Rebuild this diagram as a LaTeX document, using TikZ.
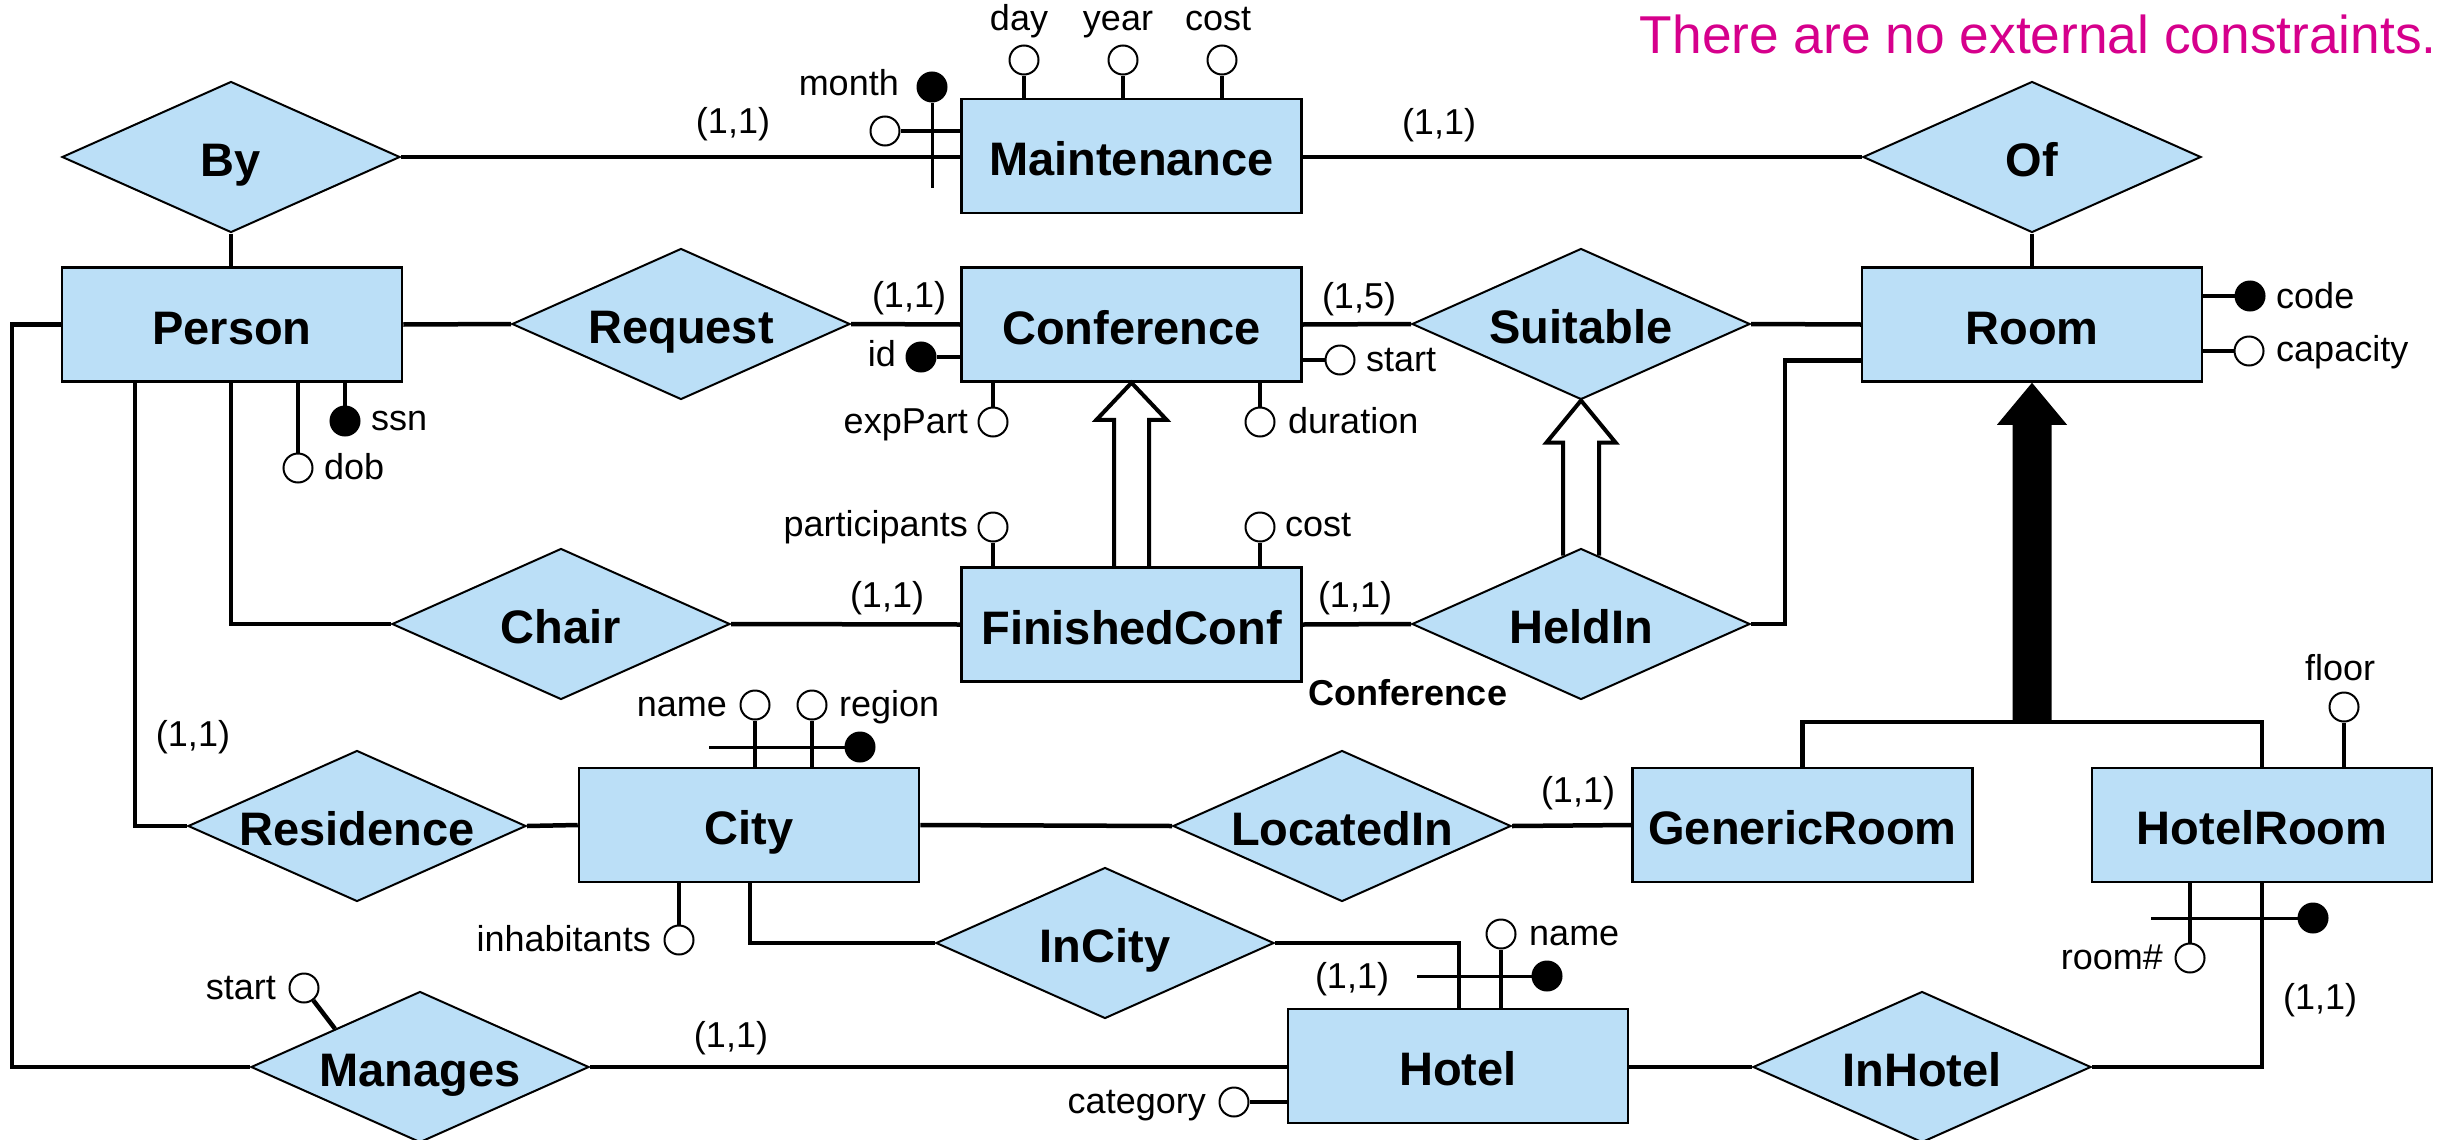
\documentclass[tikz,border=0pt]{standalone}
\usepackage{fontspec}
\setmainfont{Liberation Sans}
\usetikzlibrary{shapes.geometric}
\definecolor{erblue}{RGB}{187,223,247}
\definecolor{ermag}{RGB}{214,0,140}
\tikzset{
  ent/.style={draw, line width=2.5pt, fill=erblue, minimum width=340pt, minimum height=114pt,
    inner sep=0pt, font=\fontsize{47}{50}\selectfont\bfseries, text height=39pt, text depth=0pt},
  rel/.style={diamond, aspect=2.24, draw, line width=2pt, fill=erblue, minimum width=338pt,
    minimum height=151pt, inner sep=0pt, font=\fontsize{47}{50}\selectfont\bfseries,
    text height=38pt, text depth=0pt},
  conn/.style={line width=4.5pt},
  keybar/.style={line width=3pt},
  isa/.style={line width=4pt, line join=miter},
  oattr/.style={circle, draw, line width=2pt, fill=white, minimum size=29pt, inner sep=0pt},
  fattr/.style={circle, draw, line width=2pt, fill=black, minimum size=29pt, inner sep=0pt},
  lbl/.style={font=\fontsize{36}{40}\selectfont, inner sep=0pt},
  card/.style={font=\fontsize{36}{40}\selectfont, inner sep=0pt},
}
\begin{document}
\begin{tikzpicture}[x=1pt,y=-1pt]
\useasboundingbox (0,0) rectangle (2446,1140);

% entities
\node[ent] (Person) at (232,324.5) {Person};
\node[ent] (Maintenance) at (1131.5,156) {Maintenance};
\node[ent] (Conference) at (1131.5,324.5) {Conference};
\node[ent] (FinishedConf) at (1131.5,624.5) {FinishedConf};
\node[ent] (Room) at (2032,324.5) {Room};
\node[ent] (City) at (749,825) {City};
\node[ent] (GenericRoom) at (1802.5,825) {GenericRoom};
\node[ent] (HotelRoom) at (2262,825) {HotelRoom};
\node[ent] (Hotel) at (1458,1066) {Hotel};

% relationships
\node[rel] (By) at (231,157) {By};
\node[rel] (Of) at (2032,157) {Of};
\node[rel] (Request) at (681,324) {Request};
\node[rel] (Suitable) at (1581,324) {Suitable};
\node[rel] (Chair) at (561,624) {Chair};
\node[rel] (HeldIn) at (1581,624) {HeldIn};
\node[rel] (Residence) at (357,826) {Residence};
\node[rel] (LocatedIn) at (1342,826) {LocatedIn};
\node[rel] (InCity) at (1105,943) {InCity};
\node[rel] (Manages) at (420,1067) {Manages};
\node[rel] (InHotel) at (1922,1067) {InHotel};

% connectors
\draw[conn] (By.east) -- (By.east -| Maintenance.west);
\draw[conn] (Maintenance.east |- Of.west) -- (Of.west);
\draw[conn] (By.south) -- (By.south |- Person.north);
\draw[conn] (Of.south) -- (Room.north);
\draw[conn] (Person.east) -- (Request.west);
\draw[conn] (Request.east) -- (Conference.west);
\draw[conn] (Conference.east) -- (Suitable.west);
\draw[conn] (Suitable.east) -- (Room.west);
\draw[conn] (HeldIn.east) -- ++(34,0) |- ([yshift=-36pt]Room.west);
\draw[conn] (Chair.east) -- (FinishedConf.west);
\draw[conn] (FinishedConf.east) -- (HeldIn.west);
\draw[conn] ([xshift=-1pt]Person.south) |- (Chair.west);
\draw[conn] ([xshift=-97pt]Person.south) |- (Residence.west);
\draw[conn] (Person.west) -- ++(-49,0) |- (Manages.west);
\draw[conn] (Residence.east) -- (City.west);
\draw[conn] (City.east) -- (LocatedIn.west);
\draw[conn] (LocatedIn.east) -- (GenericRoom.west);
\draw[conn] ([xshift=1pt]City.south) |- (InCity.west);
\draw[conn] (InCity.east) -| ([xshift=1pt]Hotel.north);
\draw[conn] (Manages.east) -- (Manages.east -| Hotel.west);
\draw[conn] (Hotel.east |- InHotel.west) -- (InHotel.west);
\draw[conn] (InHotel.east) -| (HotelRoom.south);

% generalizations
\coordinate (isabar) at (2032,722);
\fill (Room.south) -- ([xshift=35pt,yshift=-42pt]Room.south) -- ([xshift=19.5pt,yshift=-42pt]Room.south)
  -- ([xshift=19.5pt]isabar) -- ([xshift=-19.5pt]isabar) -- ([xshift=-19.5pt,yshift=-42pt]Room.south)
  -- ([xshift=-35pt,yshift=-42pt]Room.south) -- cycle;
\draw[conn] (GenericRoom.north) |- (isabar) -| (HotelRoom.north);
\draw[isa] ([xshift=-17.5pt]FinishedConf.north) -- ([xshift=-17.5pt,yshift=-37pt]Conference.south)
  -- ([xshift=-35pt,yshift=-37pt]Conference.south) -- (Conference.south)
  -- ([xshift=35pt,yshift=-37pt]Conference.south) -- ([xshift=17.5pt,yshift=-37pt]Conference.south)
  -- ([xshift=17.5pt]FinishedConf.north);
\draw[isa] ([xshift=-18pt,yshift=-8pt]HeldIn.north) -- ([xshift=-18pt,yshift=-42pt]Suitable.south)
  -- ([xshift=-34.5pt,yshift=-42pt]Suitable.south) -- (Suitable.south)
  -- ([xshift=34.5pt,yshift=-42pt]Suitable.south) -- ([xshift=18pt,yshift=-42pt]Suitable.south)
  -- ([xshift=18pt,yshift=-8pt]HeldIn.north);

% attributes: Maintenance
\node[fattr] (mkey) at (932,87) {};
\node[oattr] (mopen) at (885,131) {};
\node[oattr] (day) at (1024,60) {};
\node[oattr] (year) at (1123,60) {};
\node[oattr] (mcost) at (1222,60) {};
\draw[keybar] (mkey.south) -- ++(0,85);
\draw[conn] (mopen.east) -- (mopen -| Maintenance.west);
\draw[conn] (day.south) -- (day |- Maintenance.north);
\draw[conn] (year.south) -- (year |- Maintenance.north);
\draw[conn] (mcost.south) -- (mcost |- Maintenance.north);
\node[lbl, anchor=base east] (tmonth) at (899,95.5) {month};
\node[lbl, anchor=base] (tday) at (1019,30.5) {day};
\node[lbl, anchor=base] (tyear) at (1118,30.5) {year};
\node[lbl, anchor=base] (tmcost) at (1218,30.5) {cost};

% Person
\node[fattr] (ssn) at (345,421) {};
\node[oattr] (dob) at (298,468) {};
\draw[conn] (ssn |- Person.south) -- (ssn.north);
\draw[conn] (dob |- Person.south) -- (dob.north);
\node[lbl, anchor=base west] (tssn) at (371,430.5) {ssn};
\node[lbl, anchor=base west] (tdob) at (324,479.5) {dob};

% Conference
\node[fattr] (id) at (921,357) {};
\node[oattr] (cstart) at (1340,360) {};
\node[oattr] (expPart) at (993,422) {};
\node[oattr] (duration) at (1260,422) {};
\draw[conn] (id.east) -- (id -| Conference.west);
\draw[conn] (cstart -| Conference.east) -- (cstart.west);
\draw[conn] (expPart |- Conference.south) -- (expPart.north);
\draw[conn] (duration |- Conference.south) -- (duration.north);
\node[lbl, anchor=base east] (tid) at (896,366.5) {id};
\node[lbl, anchor=base west] (tcstart) at (1366,371.5) {start};
\node[lbl, anchor=base east] (texp) at (968,433.5) {expPart};
\node[lbl, anchor=base west] (tdur) at (1288,433.5) {duration};

% FinishedConf
\node[oattr] (participants) at (993,527) {};
\node[oattr] (fcost) at (1260,527) {};
\draw[conn] (participants.south) -- (participants |- FinishedConf.north);
\draw[conn] (fcost.south) -- (fcost |- FinishedConf.north);
\node[lbl, anchor=base east] (tpart) at (968,536.5) {participants};
\node[lbl, anchor=base west] (tfcost) at (1285,536.5) {cost};
\node[lbl, anchor=base, font=\fontsize{36}{40}\selectfont\bfseries] (tconf) at (1408,705) {Conference};

% Room
\node[fattr] (code) at (2250,296) {};
\node[oattr] (capacity) at (2249,351) {};
\draw[conn] (code -| Room.east) -- (code.west);
\draw[conn] (capacity -| Room.east) -- (capacity.west);
\node[lbl, anchor=base west] (tcode) at (2276,308.5) {code};
\node[lbl, anchor=base west] (tcap) at (2276,361) {capacity};

% City
\node[oattr] (cname) at (755,705) {};
\node[oattr] (region) at (812,705) {};
\node[fattr] (ckey) at (860,747) {};
\node[oattr] (inhab) at (679,940) {};
\draw[conn] (cname.south) -- (cname |- City.north);
\draw[conn] (region.south) -- (region |- City.north);
\draw[keybar] (ckey.west) -- ++(-136,0);
\draw[conn] (inhab |- City.south) -- (inhab.north);
\node[lbl, anchor=base east] (tcname) at (727,716.5) {name};
\node[lbl, anchor=base west] (tregion) at (839,716.5) {region};
\node[lbl, anchor=base east] (tinhab) at (651,951.5) {inhabitants};

% Manages
\node[oattr] (mstart) at (304,988) {};
\draw[conn] (mstart.-53) -- (Manages.north west);
\node[lbl, anchor=base east] (tmstart) at (276,999.5) {start};

% Hotel
\node[oattr] (hname) at (1501,934) {};
\node[fattr] (hkey) at (1547,976) {};
\node[oattr] (category) at (1234,1102) {};
\draw[conn] (hname.south) -- (hname |- Hotel.north);
\draw[keybar] (hkey.west) -- ++(-115,0);
\draw[conn] (category.east) -- (category -| Hotel.west);
\node[lbl, anchor=base west] (thname) at (1529,945.5) {name};
\node[lbl, anchor=base east] (tcat) at (1206,1113.5) {category};

% HotelRoom
\node[oattr] (floor) at (2344,707) {};
\node[oattr] (roomno) at (2190,958) {};
\node[fattr] (hrkey) at (2313,918) {};
\draw[conn] (floor.south) -- (floor |- HotelRoom.north);
\draw[conn] (roomno |- HotelRoom.south) -- (roomno.north);
\draw[keybar] (hrkey.west) -- ++(-147,0);
\node[lbl, anchor=base] (tfloor) at (2340,680.5) {floor};
\node[lbl, anchor=base east] (troom) at (2163,969.5) {room\#};

% cardinalities
\node[card] (c1) at (733,124) {(1,1)};
\node[card] (c2) at (1439,125) {(1,1)};
\node[card] (c3) at (909,298) {(1,1)};
\node[card] (c4) at (1359,299) {(1,5)};
\node[card] (c5) at (887,598) {(1,1)};
\node[card] (c6) at (1355,598) {(1,1)};
\node[card] (c7) at (193,737) {(1,1)};
\node[card] (c8) at (1578,793) {(1,1)};
\node[card] (c9) at (1352,979) {(1,1)};
\node[card] (c10) at (731,1038) {(1,1)};
\node[card] (c11) at (2320,1000) {(1,1)};

% note
\node[anchor=base east, inner sep=0pt, text=ermag, font=\fontsize{53.3}{60}\selectfont] (note) at (2437,53) {There are no external constraints.};
\end{tikzpicture}
\end{document}
